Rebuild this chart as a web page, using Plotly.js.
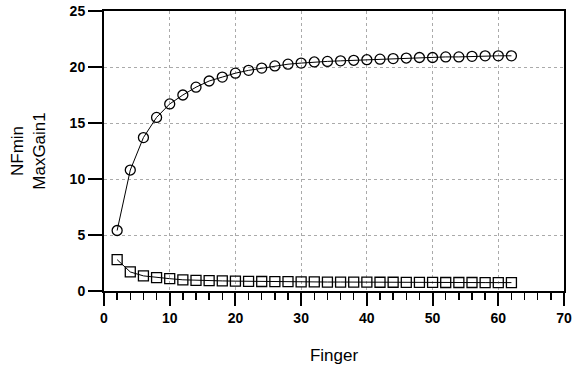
<!DOCTYPE html>
<html><head><meta charset="utf-8">
<script src="https://cdn.plot.ly/plotly-3.0.1.min.js"></script>
<style>body{margin:0;background:#fff}#c{width:573px;height:370px}</style>
</head><body><div id="c"></div>
<script>
const finger = [2,4,6,8,10,12,14,16,18,20,22,24,26,28,30,32,34,36,38,40,42,44,46,48,50,52,54,56,58,60,62];
const maxGain1 = [5.4,10.8,13.7,15.5,16.7,17.5,18.2,18.75,19.1,19.45,19.7,19.9,20.1,20.25,20.35,20.45,20.5,20.55,20.6,20.65,20.7,20.75,20.8,20.85,20.85,20.9,20.9,20.95,21.0,21.0,21.0];
const nfMin = [2.8,1.7,1.35,1.2,1.1,1.0,0.95,0.92,0.9,0.88,0.86,0.85,0.84,0.83,0.82,0.81,0.8,0.8,0.79,0.79,0.78,0.78,0.77,0.77,0.77,0.76,0.76,0.76,0.75,0.75,0.75];
const xTicks = [0,10,20,30,40,50,60,70];
const yTicks = [0,5,10,15,20,25];

const traces = [
  {x: finger, y: maxGain1, name: 'MaxGain1', mode: 'lines+markers',
   line: {color: '#000', width: 1},
   marker: {symbol: 'circle-open', size: 10, color: '#000', line: {width: 1.3}}},
  {x: finger, y: nfMin, name: 'NFmin', mode: 'lines+markers',
   line: {color: '#000', width: 1},
   marker: {symbol: 'square-open', size: 10, color: '#000', line: {width: 1.3}}}
];
const layout = {
  width: 573, height: 370,
  margin: {l: 104, r: 9, t: 11, b: 79},
  paper_bgcolor: '#fff', plot_bgcolor: '#fff',
  showlegend: false,
  font: {family: 'Liberation Sans, Arial, sans-serif', color: '#000', size: 14},
  xaxis: {range: [0, 70], tickvals: xTicks, ticktext: xTicks.map(String),
    tickfont: {size: 14, weight: 'bold'},
    ticks: 'outside', ticklen: 13, tickwidth: 2, tickcolor: '#000',
    showline: true, linewidth: 2, linecolor: '#000', mirror: true,
    showgrid: true, gridcolor: '#aaa', griddash: 'dot', gridwidth: 1, zeroline: false,
    minor: {dtick: 2, tick0: 0, ticks: 'outside', ticklen: 7, tickwidth: 1.5, tickcolor: '#000', showgrid: false},
    title: {text: 'Finger', font: {size: 17}, standoff: 24}},
  yaxis: {range: [0, 25], tickvals: yTicks, ticktext: yTicks.map(String),
    tickfont: {size: 14, weight: 'bold'},
    ticks: 'outside', ticklen: 14, tickwidth: 1.5, tickcolor: '#000',
    showline: true, linewidth: 2, linecolor: '#000', mirror: true,
    showgrid: true, gridcolor: '#aaa', griddash: 'dot', gridwidth: 1, zeroline: false,
    title: {text: 'NFmin<br>MaxGain1', font: {size: 17}, standoff: 20}}
};
Plotly.newPlot('c', traces, layout, {displayModeBar: false, staticPlot: true});
</script></body></html>
